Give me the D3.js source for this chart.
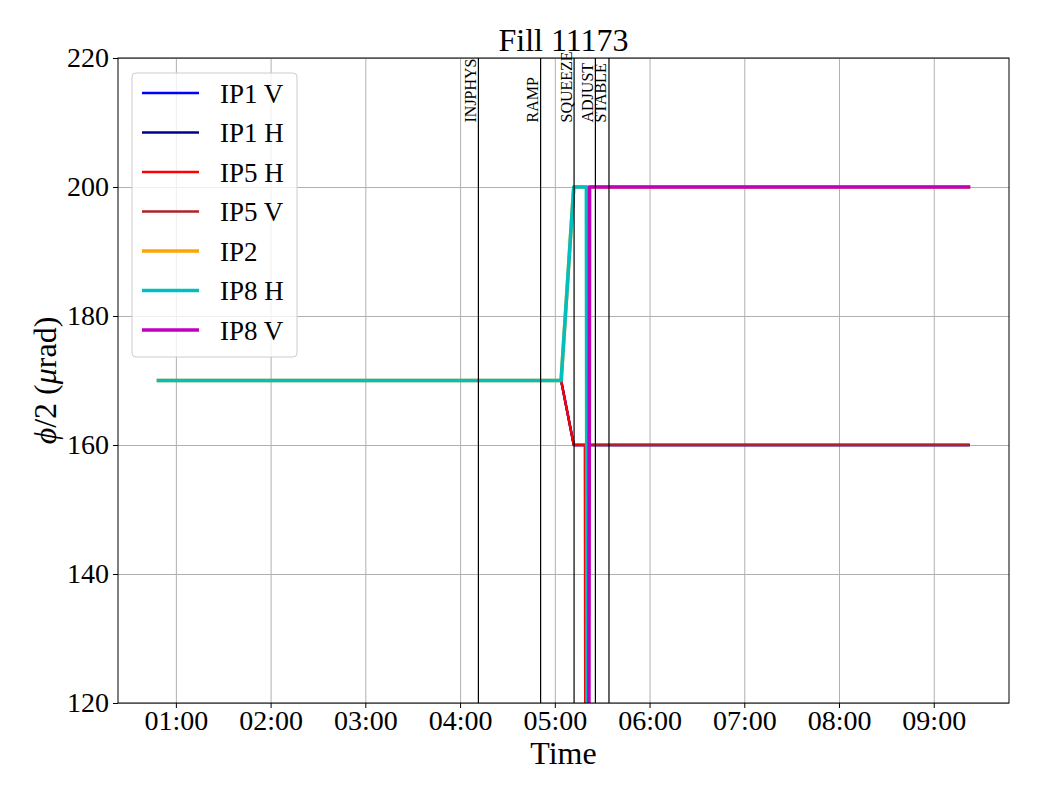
<!DOCTYPE html>
<html>
<head>
<meta charset="utf-8">
<script src="https://cdn.jsdelivr.net/npm/d3@7"></script>
<style>
    body { margin: 0; background: #fff; }
    svg { font-family: "Liberation Serif", "Times New Roman", serif; }
    .grid line { stroke: #b0b0b0; stroke-width: 1; }
    .grid path { display: none; }
    .axis path, .axis line { stroke: #000; }
    .axis text { font-size: 28px; fill: #000; }
</style>
</head>
<body>
<div id="chart"></div>
<script>
//Datos (hora UTC, crossing angle en µrad)
const seriesNames = ['IP1 V', 'IP1 H', 'IP5 H', 'IP5 V', 'IP2', 'IP8 H', 'IP8 V'];
const seriesColors = ['#0000ff', '#00008b', '#ff0000', '#b22222', '#ffa500', '#00bfbf', '#bf00bf'];
const seriesWidths = [2.4, 2.4, 2.4, 2.4, 3.6, 3.6, 3.6];

const ip1vTimes = ['00:49', '05:04', '05:12', '09:22'];
const ip1vValues = [170, 170, 160, 160];
const ip1hTimes = ['00:49', '05:04', '05:12', '09:22'];
const ip1hValues = [170, 170, 160, 160];
const ip5hTimes = ['00:49', '05:04', '05:12', '05:19', '05:20', '09:22'];
const ip5hValues = [170, 170, 160, 160, 0, 0];
const ip5vTimes = ['00:49', '05:19', '05:20', '09:22'];
const ip5vValues = [0, 0, 160, 160];
const ip2Times = ['00:49', '05:04', '05:12', '09:22'];
const ip2Values = [170, 170, 200, 200];
const ip8hTimes = ['00:49', '05:04', '05:12', '05:20', '05:21', '09:22'];
const ip8hValues = [170, 170, 200, 200, 0, 0];
const ip8vTimes = ['00:49', '05:21', '05:22', '09:22'];
const ip8vValues = [0, 0, 200, 200];

//Fases del fill
const phaseNames = ['INJPHYS', 'RAMP', 'SQUEEZE', 'ADJUST', 'STABLE'];
const phaseTimes = ['04:11.6', '04:51.0', '05:12.2', '05:25.7', '05:34.3'];

const yTicks = [120, 140, 160, 180, 200, 220];

const seriesTimes = [ip1vTimes, ip1hTimes, ip5hTimes, ip5vTimes, ip2Times, ip8hTimes, ip8vTimes];
const seriesValues = [ip1vValues, ip1hValues, ip5hValues, ip5vValues, ip2Values, ip8hValues, ip8vValues];

//Convierte 'HH:MM(.m)' en fecha
function toDate(s) {
    let parts = s.split(':');
    let mins = parseInt(parts[0]) * 60 + parseFloat(parts[1]);
    return new Date(Date.UTC(2025, 0, 1) + mins * 60000);
}

let series = seriesNames.map(function(name, i) {
    return {
        name: name,
        color: seriesColors[i],
        width: seriesWidths[i],
        points: seriesTimes[i].map(function(t, j) { return { t: toDate(t), v: seriesValues[i][j] }; })
    };
});

let margin = {top: 58, right: 31, bottom: 97, left: 118},
    width = 1040 - margin.left - margin.right,
    height = 800 - margin.top - margin.bottom;

let svg = d3.select('#chart')
    .append('svg')
        .attr('width', 1040)
        .attr('height', 800);

let g = svg.append('g')
    .attr('transform', 'translate(' + margin.left + ',' + margin.top + ')');

//Escalas: margen del 5% como matplotlib
let allTimes = [].concat.apply([], series.map(function(s) { return s.points.map(function(p) { return +p.t; }); }));
let tMin = d3.min(allTimes), tMax = d3.max(allTimes);
let pad = (tMax - tMin) * 0.05;

let x = d3.scaleUtc()
    .domain([new Date(tMin - pad), new Date(tMax + pad)])
    .range([0, width]);

let y = d3.scaleLinear()
    .domain([120, 220])
    .range([height, 0]);

//Rejilla
g.append('g')
    .attr('class', 'grid')
    .attr('transform', 'translate(0,' + height + ')')
    .call(d3.axisBottom(x).ticks(d3.utcHour.every(1)).tickSize(-height).tickFormat(''));

g.append('g')
    .attr('class', 'grid')
    .call(d3.axisLeft(y).tickValues(yTicks).tickSize(-width).tickFormat(''));

//Líneas
g.append('clipPath')
    .attr('id', 'clip')
    .append('rect')
    .attr('width', width)
    .attr('height', height);

let line = d3.line()
    .x(function(d) { return x(d.t); })
    .y(function(d) { return y(d.v); });

g.append('g')
    .attr('clip-path', 'url(#clip)')
    .selectAll('path')
    .data(series)
    .enter()
    .append('path')
    .attr('fill', 'none')
    .attr('stroke', function(d) { return d.color; })
    .attr('stroke-width', function(d) { return d.width; })
    .attr('stroke-linecap', 'square')
    .attr('stroke-linejoin', 'round')
    .attr('d', function(d) { return line(d.points); });

//Fases
let phases = phaseNames.map(function(n, i) { return { name: n, t: toDate(phaseTimes[i]) }; });

g.selectAll('.phase')
    .data(phases)
    .enter()
    .append('line')
    .attr('class', 'phase')
    .attr('x1', function(d) { return x(d.t); })
    .attr('x2', function(d) { return x(d.t); })
    .attr('y1', 0)
    .attr('y2', height)
    .attr('stroke', '#000')
    .attr('stroke-width', 1.2);

g.selectAll('.phase-label')
    .data(phases)
    .enter()
    .append('text')
    .attr('class', 'phase-label')
    .attr('transform', function(d) { return 'translate(' + (x(d.t) - 2.5) + ',' + y(210) + ') rotate(-90)'; })
    .attr('font-size', '16px')
    .text(function(d) { return d.name; });

//Ejes
g.append('g')
    .attr('class', 'axis axis-x')
    .attr('transform', 'translate(0,' + height + ')')
    .call(d3.axisBottom(x).ticks(d3.utcHour.every(1)).tickFormat(d3.utcFormat('%H:%M')).tickSize(5).tickPadding(5))
    .call(function(a) { a.select('.domain').remove(); });

g.append('g')
    .attr('class', 'axis axis-y')
    .call(d3.axisLeft(y).tickValues(yTicks).tickSize(5).tickPadding(4))
    .call(function(a) { a.select('.domain').remove(); });

g.selectAll('.axis').attr('font-family', '"Liberation Serif", serif').attr('font-size', '28px');
g.selectAll('.axis-x .tick text').attr('dy', '0.62em');

g.append('rect')
    .attr('width', width)
    .attr('height', height)
    .attr('fill', 'none')
    .attr('stroke', '#000')
    .attr('stroke-width', 1);

//Títulos
svg.append('text')
    .attr('x', margin.left + width / 2)
    .attr('y', 51)
    .attr('text-anchor', 'middle')
    .attr('font-size', '32px')
    .text('Fill 11173');

svg.append('text')
    .attr('x', margin.left + width / 2)
    .attr('y', 764)
    .attr('text-anchor', 'middle')
    .attr('font-size', '32px')
    .text('Time');

let yl = svg.append('text')
    .attr('transform', 'translate(56,' + (margin.top + height / 2) + ') rotate(-90)')
    .attr('text-anchor', 'middle')
    .attr('font-size', '32px');
yl.append('tspan').attr('font-style', 'italic').text('ϕ');
yl.append('tspan').text('/2 (');
yl.append('tspan').attr('font-style', 'italic').text('μ');
yl.append('tspan').text('rad)');

//Leyenda
let legend = svg.append('g')
    .attr('transform', 'translate(132,73)');

legend.append('rect')
    .attr('width', 165)
    .attr('height', 284)
    .attr('rx', 4)
    .attr('fill', '#fff')
    .attr('fill-opacity', 0.8)
    .attr('stroke', '#cccccc')
    .attr('stroke-width', 1);

let items = legend.selectAll('.item')
    .data(series)
    .enter()
    .append('g')
    .attr('class', 'item')
    .attr('transform', function(d, i) { return 'translate(0,' + (20 + i * 39.5) + ')'; });

items.append('line')
    .attr('x1', 10)
    .attr('x2', 67)
    .attr('stroke', function(d) { return d.color; })
    .attr('stroke-width', function(d) { return d.width; });

items.append('text')
    .attr('x', 88)
    .attr('y', 9.5)
    .attr('font-size', '27px')
    .text(function(d) { return d.name; });
</script>
</body>
</html>
